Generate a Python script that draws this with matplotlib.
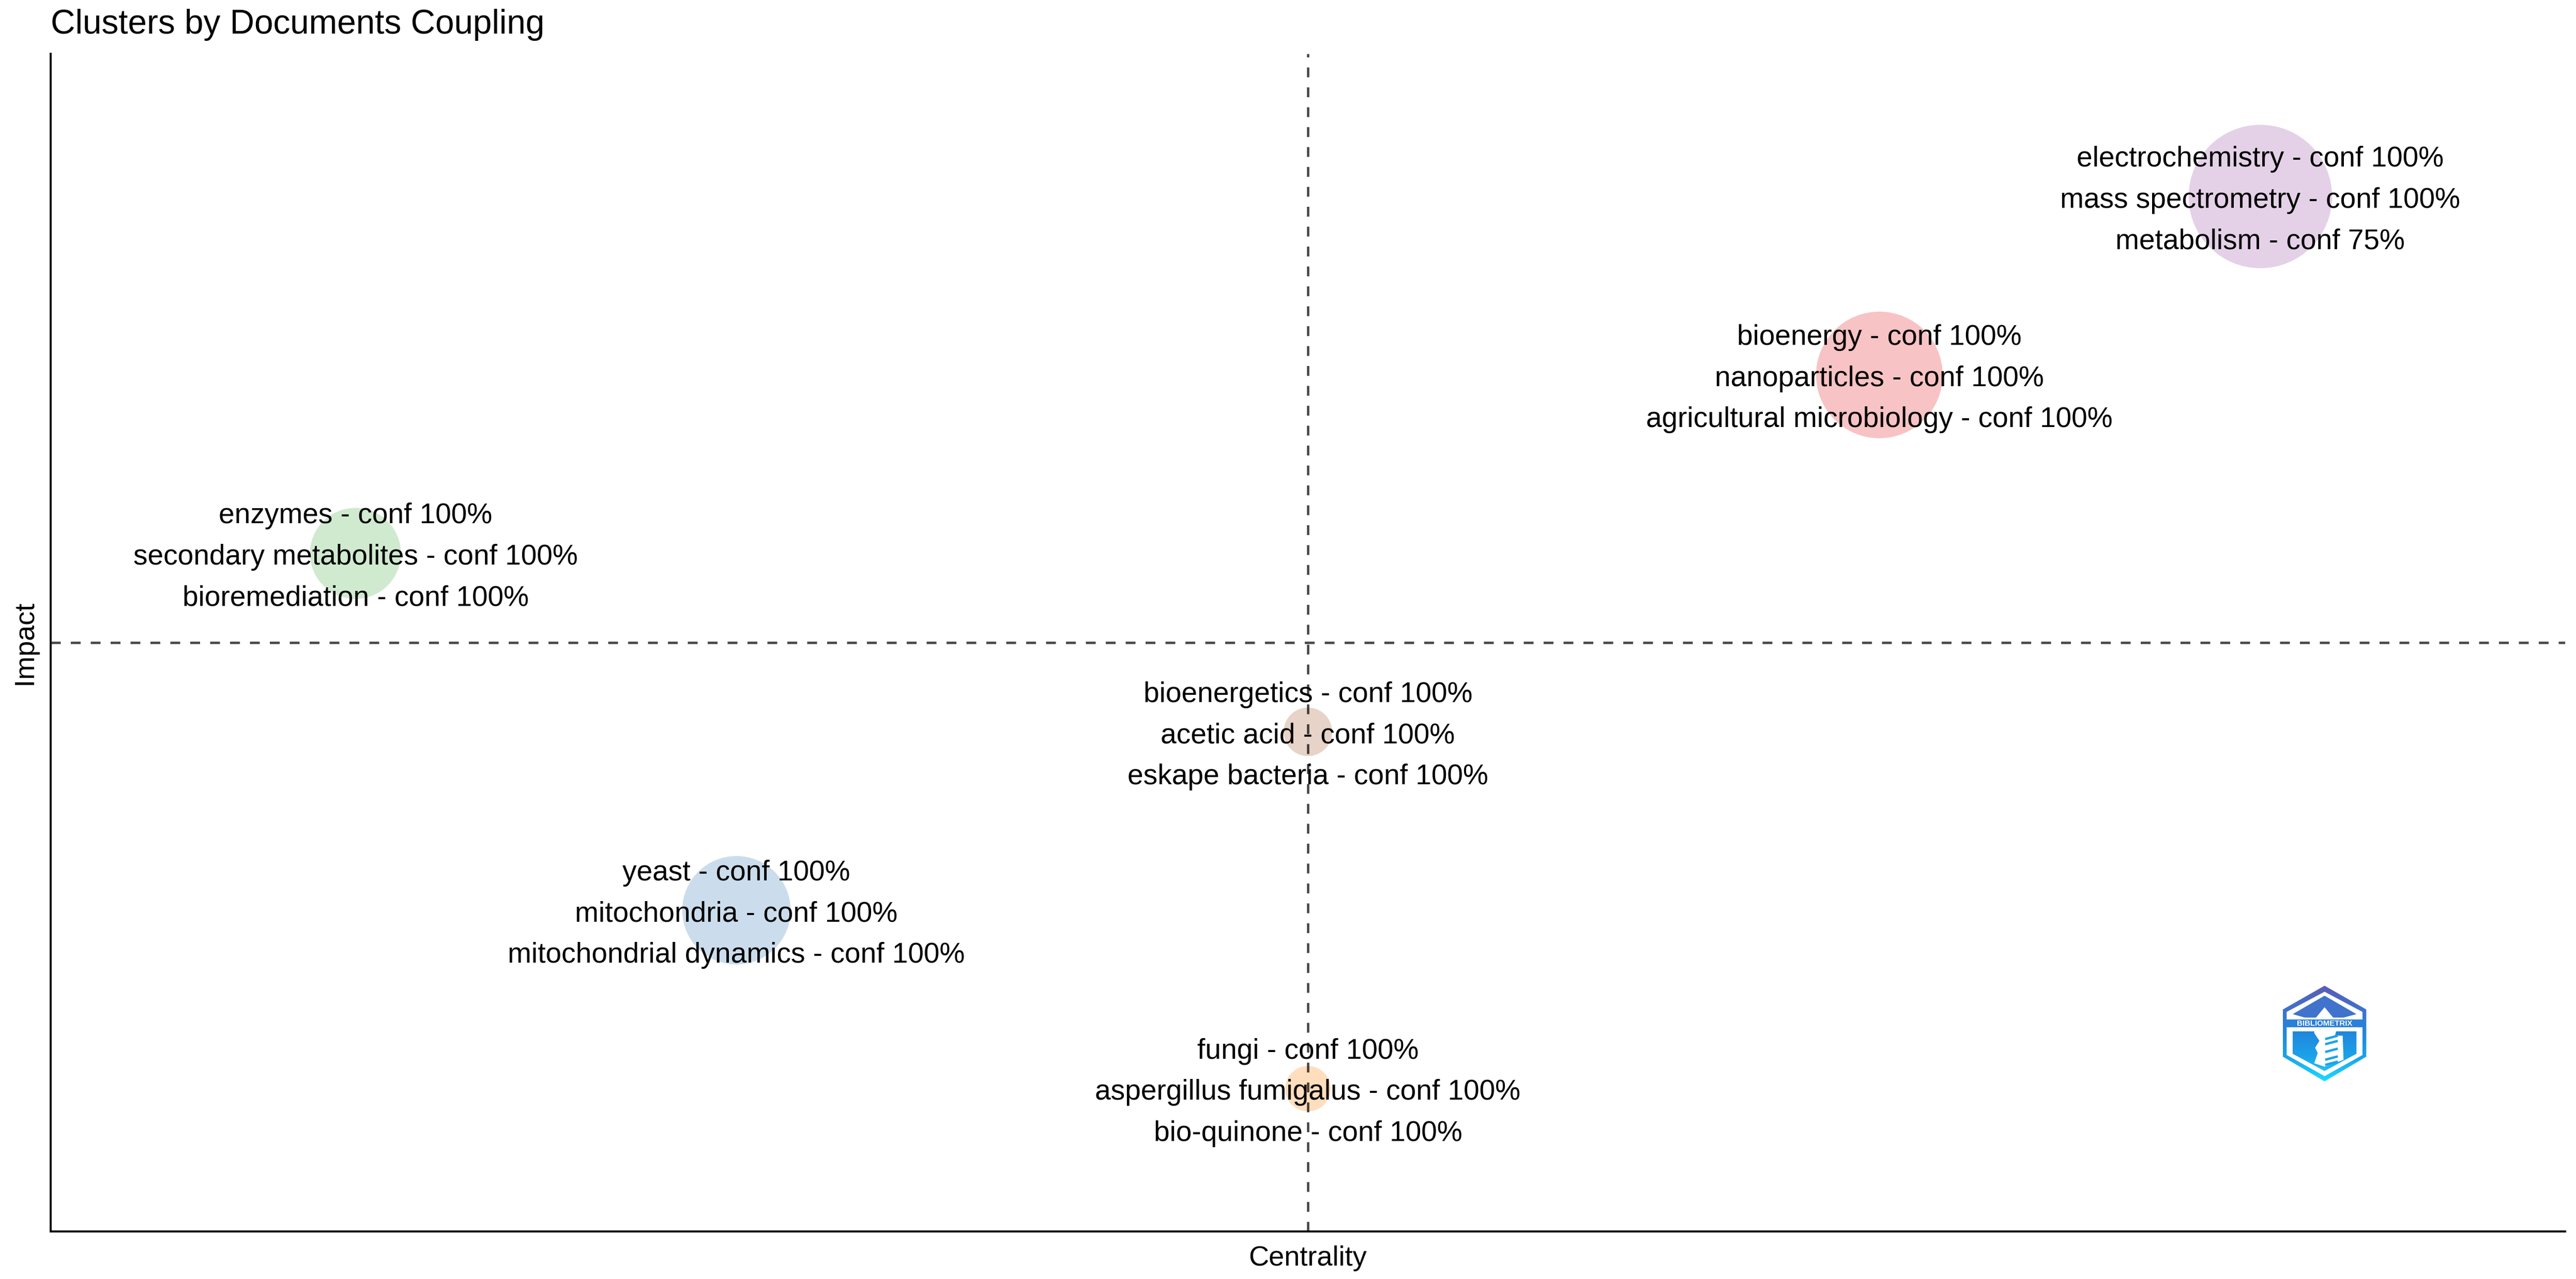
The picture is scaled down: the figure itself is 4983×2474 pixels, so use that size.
import numpy as np
import matplotlib
matplotlib.use('Agg')
import matplotlib.pyplot as plt
from matplotlib.colors import LinearSegmentedColormap
from matplotlib.patches import Polygon

plt.rcParams['font.family'] = ['Liberation Sans', 'DejaVu Sans']
plt.rcParams['lines.scale_dashes'] = False

# Clusters. Both axes are ranks, ties share the mean rank
centrality = [6, 5, 1, 3.5, 2, 3.5]
impact = [6, 5, 4, 3, 2, 1]
freq = [77, 60, 31, 8.8, 44, 7.7]
colors = ['#984EA3', '#E41A1C', '#4DAF4A', '#A65628', '#377EB8', '#FF7F00']
labels = [
    ['electrochemistry - conf 100%', 'mass spectrometry - conf 100%', 'metabolism - conf 75%'],
    ['bioenergy - conf 100%', 'nanoparticles - conf 100%', 'agricultural microbiology - conf 100%'],
    ['enzymes - conf 100%', 'secondary metabolites - conf 100%', 'bioremediation - conf 100%'],
    ['bioenergetics - conf 100%', 'acetic acid - conf 100%', 'eskape bacteria - conf 100%'],
    ['yeast - conf 100%', 'mitochondria - conf 100%', 'mitochondrial dynamics - conf 100%'],
    ['fungi - conf 100%', 'aspergillus fumigalus - conf 100%', 'bio-quinone - conf 100%'],
]

W, H, DPI = 4983, 2474, 300
px = 72 / DPI  # one picture pixel in points

fig = plt.figure(figsize=(W / DPI, H / DPI), dpi=DPI, facecolor='white')
ax = fig.add_axes([98 / W, 1 - 2382 / H, (4962 - 98) / W, (2382 - 104) / H])

ax.scatter(centrality, impact, s=[f * 57.6 for f in freq], c=colors, alpha=0.26, linewidths=0, zorder=2)

# Mean lines
dash = (0, (19 * px, 19.5 * px))
ax.axvline(np.mean(centrality), color='black', alpha=0.72, lw=4.6 * px, ls=dash, zorder=3)
ax.axhline(np.mean(impact), color='black', alpha=0.72, lw=4.6 * px, ls=dash, zorder=3)

# Three label lines per cluster, middle one on the bubble centre
for x, y, lines in zip(centrality, impact, labels):
    for line, off in zip(lines, [58, -21.5, -101]):
        ax.annotate(line, (x, y), xytext=(0, off * px), textcoords='offset points',
                    ha='center', va='baseline', fontsize=13.2, color='black', zorder=4)

ax.set_xlim(0.2, 6.8)
ax.set_ylim(0.2, 6.8)
ax.set_xticks([])
ax.set_yticks([])
for side in ['top', 'right']:
    ax.spines[side].set_visible(False)
for side in ['left', 'bottom']:
    ax.spines[side].set_linewidth(4 * px)

ax.set_title('Clusters by Documents Coupling', loc='left', fontsize=15.75, pad=39 * px)
ax.text(0.5, (2382 - 2448) / (2382 - 104), 'Centrality', transform=ax.transAxes,
        ha='center', va='baseline', fontsize=13)
ax.text((62 - 98) / (4962 - 98), 0.5, 'Impact', transform=ax.transAxes, rotation=90,
        ha='center', va='baseline', rotation_mode='anchor', fontsize=13)

# Logo, in crop coordinates of the reference
logo = fig.add_axes([4300 / W, 1 - 2150 / H, 400 / W, 300 / H])
logo.set_xlim(0, 1200)
logo.set_ylim(900, 0)
logo.axis('off')
cmap = LinearSegmentedColormap.from_list('logo', ['#5a5cb4', '#3f73cc', '#2088de', '#1ba4ea', '#1cdcff'])
grad = np.linspace(0, 1, 256).reshape(-1, 1)


def fill_grad(points):
    im = logo.imshow(grad, cmap=cmap, extent=(348, 832, 725, 170), aspect='auto', zorder=1)
    im.set_clip_path(Polygon(points, transform=logo.transData))


def fill_white(points):
    logo.add_patch(Polygon(points, fc='white', ec='none', zorder=2))


fill_grad([(590, 170), (832, 308), (832, 582), (590, 725), (348, 582), (348, 308)])
fill_white([(590, 205), (810, 322), (810, 572), (590, 695), (370, 572), (370, 322)])
logo.add_patch(Polygon([(590, 228), (775, 335), (700, 355), (640, 355), (590, 295), (540, 355),
                        (475, 355), (405, 335)], fc='#3f73cc', ec='none', zorder=3))
logo.add_patch(Polygon([(370, 365), (810, 365), (810, 410), (370, 410)], fc='#2a80d8', ec='none', zorder=3))
im = logo.imshow(grad, cmap=cmap, extent=(348, 832, 725, 170), aspect='auto', zorder=3)
im.set_clip_path(Polygon([(405, 435), (775, 435), (775, 565), (590, 665), (405, 565)], transform=logo.transData))
# tree trunk and helix rungs
logo.add_patch(Polygon([(530, 425), (660, 425), (650, 460), (695, 460), (700, 600), (590, 640),
                        (530, 620), (550, 560), (535, 530), (560, 490), (530, 445)],
                       fc='white', ec='none', zorder=4))
for yy in [470, 500, 545, 590, 620]:
    logo.plot([600, 660], [yy + 8, yy - 8], color='#1ba4ea', lw=1.1, zorder=5)
logo.text(590, 390, 'BIBLIOMETRIX', ha='center', va='center', color='white', fontsize=3.6,
          fontweight='bold', zorder=6)
logo.set_xlim(0, 1200)
logo.set_ylim(900, 0)

fig.savefig('out.png', dpi=DPI, facecolor='white')
